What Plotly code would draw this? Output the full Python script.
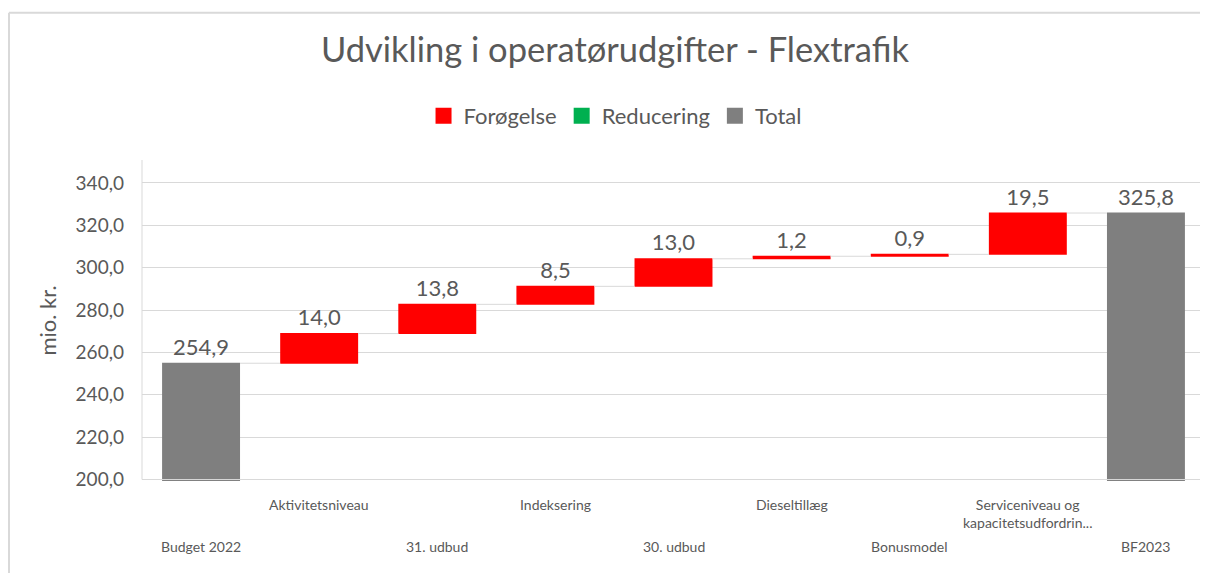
import plotly.graph_objects as go

categories = ["Budget 2022", "Aktivitetsniveau", "31. udbud", "Indeksering", "30. udbud",
              "Dieseltillæg", "Bonusmodel", "Serviceniveau og<br>kapacitetsudfordrin...", "BF2023"]
values = [254.9, 14.0, 13.8, 8.5, 13.0, 1.2, 0.9, 19.5, 325.8]
measures = ["absolute", "relative", "relative", "relative", "relative",
            "relative", "relative", "relative", "total"]
tick_vals = [200, 220, 240, 260, 280, 300, 320, 340]
legend_names = ["Forøgelse", "Reducering", "Total"]
legend_colors = ["#FF0000", "#00B050", "#7F7F7F"]

FONT = "Lato"
GREY = "#595959"
GRID = "#D9D9D9"

labels = [f"{v:.1f}".replace(".", ",") for v in values]
xs = list(range(len(categories)))

fig = go.Figure()
fig.add_trace(go.Waterfall(
    x=xs, y=values, measure=measures,
    text=labels, textposition="outside", cliponaxis=False,
    textfont=dict(family=FONT, size=22, color=GREY),
    increasing=dict(marker=dict(color="#FF0000")),
    decreasing=dict(marker=dict(color="#00B050")),
    totals=dict(marker=dict(color="#7F7F7F")),
    connector=dict(line=dict(color=GRID, width=1), mode="between"),
    width=0.66, showlegend=False, hoverinfo="skip",
))
for n, c in zip(legend_names, legend_colors):
    fig.add_trace(go.Scatter(x=[None], y=[None], mode="markers", name=n,
                             marker=dict(symbol="square", size=16, color=c)))

# staggered category labels
for i, cat in enumerate(categories):
    upper = i % 2 == 1
    fig.add_annotation(x=i, xref="x", y=(-0.042 if upper else -0.170), yref="paper",
                       text=cat, showarrow=False, yanchor="top",
                       font=dict(family=FONT, size=14, color=GREY))

shapes = [
    # chart frame (top and left edges)
    dict(type="line", xref="paper", yref="paper", x0=-0.1251, x1=1.2, y0=1.4588, y1=1.4588,
         line=dict(color=GRID, width=2), layer="below"),
    dict(type="line", xref="paper", yref="paper", x0=-0.1251, x1=-0.1251, y0=-0.6, y1=1.4588,
         line=dict(color=GRID, width=2), layer="below"),
    # left axis line
    dict(type="line", xref="paper", yref="paper", x0=0, x1=0, y0=0.0047, y1=1,
         line=dict(color=GRID, width=1)),
    # 200 gridline above bars
    dict(type="line", xref="paper", yref="y", x0=0, x1=1, y0=200, y1=200,
         line=dict(color=GRID, width=1), layer="above"),
]

fig.update_layout(
    width=1200, height=565,
    margin=dict(l=134, r=3, t=152, b=91.5),
    paper_bgcolor="white", plot_bgcolor="white",
    separators=",.",
    font=dict(family=FONT, color=GREY),
    title=dict(text="Udvikling i operatørudgifter - Flextrafik", x=0.5058, xanchor="center",
               xref="container", y=0.9257, yanchor="middle", yref="container",
               font=dict(family=FONT, size=34.5, color=GREY)),
    legend=dict(orientation="h", x=0.445, xanchor="center", y=1.137, yanchor="middle",
                font=dict(family=FONT, size=22, color=GREY), itemwidth=30,
                bgcolor="rgba(0,0,0,0)"),
    xaxis=dict(range=[-0.5, 8.5], showticklabels=False, showgrid=False, zeroline=False,
               showline=False, ticks=""),
    yaxis=dict(range=[199.3, 350.84], tickvals=tick_vals, tickformat=".1f",
               showgrid=True, gridcolor=GRID, gridwidth=1, zeroline=False, showline=False,
               ticks="", ticklabelstandoff=17,
               tickfont=dict(family=FONT, size=19, color=GREY),
               title=dict(text="mio. kr.", font=dict(family=FONT, size=22, color=GREY), standoff=12)),
    shapes=shapes,
)

fig.write_html("out.html")
